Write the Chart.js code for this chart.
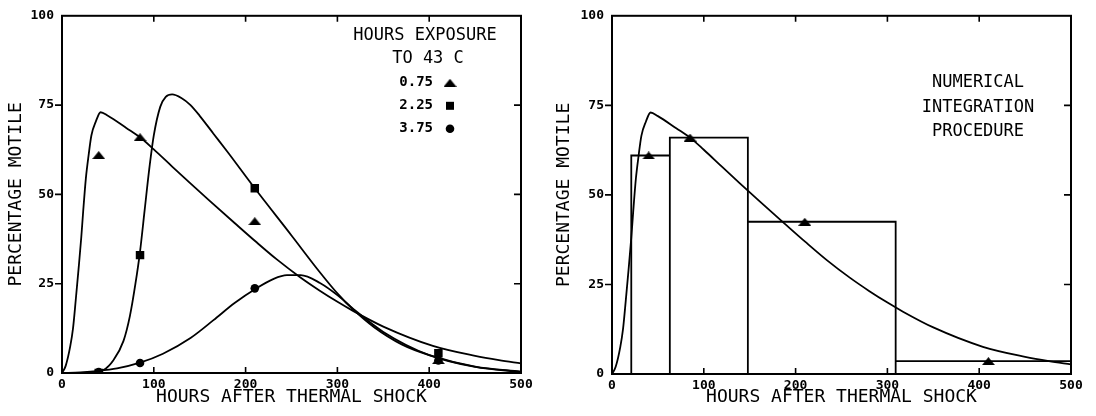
<!DOCTYPE html>
<html>
<head>
<meta charset="utf-8">
<script src="https://cdn.jsdelivr.net/npm/chart.js"></script>
<style>
  html, body { margin: 0; padding: 0; background: #fff; }
  #wrap { position: relative; width: 1096px; height: 416px; }
  canvas { position: absolute; top: 0; }
  #cl { left: 0; }
  #cr { left: 548px; }
</style>
</head>
<body>
<div id="wrap">
  <canvas id="cl" width="548" height="416"></canvas>
  <canvas id="cr" width="548" height="416"></canvas>
</div>
<script>
// ---------------- DATA ----------------
const xTickValues = [0, 100, 200, 300, 400, 500];
const yTickValues = [0, 25, 50, 75, 100];

const hoursObs   = [40, 85, 210, 410];
const motile075  = [61, 66, 42.5, 3.6];   // triangles, 0.75 h at 43 C
const motile225  = [0, 33, 51.7, 5.5];    // squares, 2.25 h
const motile375  = [0.3, 2.8, 23.7, 3.5]; // circles, 3.75 h

const fitHours075 = [0,4,9,12,15,18,21,23,26,29,32,37,42,50,70,85,100,120,139,160,188,211,234,259,280,301,317,350,404,450,476,500];
const fit075      = [0,2,7.5,12.5,20.5,29,38,45,54.5,61,66.5,70.5,73,72,68.6,66,62.6,57.8,53.3,48.4,42,36.8,31.8,26.9,23.2,19.8,17.4,13,7.6,4.8,3.6,2.7];

const fitHours225 = [0,30,45,56,67,74,80,85,90,95,100,107,113,120,130,140,150,165,180,210,250,280,301,317,340,370,400,450,500];
const fit225      = [0,0,0.8,3.6,9,16,25,34,45.5,57,66.5,74.5,77.3,78,77,75,72,67,62,51.7,38.5,28.5,22,17.8,12.8,8,5,1.8,0.4];

const fitHours375 = [0,20,40,60,85,110,140,165,188,211,230,245,260,281,301,317,350,400,450,500];
const fit375      = [0,0.2,0.6,1.3,2.9,5.4,9.8,14.8,19.6,23.6,26.3,27.4,27.4,25.2,21.6,18,11.5,5,1.7,0.3];

const binEdges   = [21, 63, 148, 309, 500];
const binHeights = [61, 66, 42.5, 3.6];

const legendTitle = ['HOURS EXPOSURE', 'TO 43 C'];
const legendLabels = ['0.75', '2.25', '3.75'];
const noteLines = ['NUMERICAL', 'INTEGRATION', 'PROCEDURE'];
const xTitle = 'HOURS AFTER THERMAL SHOCK';
const yTitle = 'PERCENTAGE MOTILE';

// ---------------- HELPERS ----------------
const MONO = '"DejaVu Sans Mono", "Liberation Mono", monospace';
function pairs(xs, ys) { return xs.map((x, i) => ({ x: x, y: ys[i] })).filter(p => p.y !== null); }

function makeTriangle(w, h) {
  const c = document.createElement('canvas');
  c.width = w; c.height = h;
  const g = c.getContext('2d');
  g.fillStyle = '#000';
  g.beginPath();
  g.moveTo(0, h); g.lineTo(w / 2, 0); g.lineTo(w, h); g.closePath();
  g.fill();
  return c;
}
const triImg = makeTriangle(13, 8);

function outline(edges, heights) {
  const pts = [{ x: edges[0], y: 0 }];
  heights.forEach((h, i) => {
    pts.push({ x: edges[i], y: h }, { x: edges[i + 1], y: h }, { x: edges[i + 1], y: 0 });
  });
  return pts;
}

function curve(xs, ys) {
  return { type: 'line', data: pairs(xs, ys), borderColor: '#000', borderWidth: 1.8,
           pointRadius: 0, fill: false, cubicInterpolationMode: 'monotone', order: 5 };
}
function markers(ys, style, r) {
  return { type: 'scatter', data: pairs(hoursObs, ys), showLine: false,
           pointStyle: style, pointRadius: r, pointBackgroundColor: '#000', pointBorderColor: '#000',
           pointBorderWidth: 0, order: 1 };
}

const framePlugin = {
  id: 'frame',
  afterDatasetsDraw(chart) {
    const { ctx, chartArea: a, scales: { x, y } } = chart;
    ctx.save();
    ctx.strokeStyle = '#000';
    ctx.lineWidth = 2;
    ctx.strokeRect(a.left, a.top, a.right - a.left, a.bottom - a.top);
    ctx.lineWidth = 1.6;
    ctx.beginPath();
    [100, 200, 300, 400].forEach(v => {
      const px = x.getPixelForValue(v);
      ctx.moveTo(px, a.bottom); ctx.lineTo(px, a.bottom - 6);
      ctx.moveTo(px, a.top); ctx.lineTo(px, a.top + 6);
    });
    [25, 50, 75].forEach(v => {
      const py = y.getPixelForValue(v);
      ctx.moveTo(a.left, py); ctx.lineTo(a.left - 7, py);
      ctx.moveTo(a.right, py); ctx.lineTo(a.right - 7, py);
    });
    ctx.stroke();
    ctx.restore();
  }
};

const legendPlugin = {
  id: 'legendNote',
  afterDraw(chart) {
    const { ctx, chartArea: a } = chart;
    ctx.save();
    ctx.fillStyle = '#000';
    ctx.textBaseline = 'middle';
    ctx.textAlign = 'center';
    ctx.font = '17px ' + MONO;
    const cx = a.right - 96;
    ctx.fillText(legendTitle[0], cx, a.top + 20);
    ctx.fillText(legendTitle[1], cx + 3, a.top + 43);
    ctx.font = 'bold 14px ' + MONO;
    ctx.textAlign = 'right';
    const rows = [a.top + 67, a.top + 90, a.top + 113];
    const mx = a.right - 71;
    legendLabels.forEach((t, i) => ctx.fillText(t, a.right - 88, rows[i]));
    ctx.drawImage(triImg, mx - 6.5, rows[0] - 4);
    ctx.fillRect(mx - 4, rows[1] - 4, 8, 8);
    ctx.beginPath(); ctx.arc(mx, rows[2], 4.3, 0, Math.PI * 2); ctx.fill();
    ctx.restore();
  }
};

const notePlugin = {
  id: 'note',
  afterDraw(chart) {
    const { ctx, chartArea: a } = chart;
    ctx.save();
    ctx.fillStyle = '#000';
    ctx.textBaseline = 'middle';
    ctx.textAlign = 'center';
    ctx.font = '17px ' + MONO;
    const cx = a.right - 93;
    noteLines.forEach((t, i) => ctx.fillText(t, cx, a.top + 67 + i * 24.5));
    ctx.restore();
  }
};

function scalesCfg(yWidth, xHeight) {
  return {
    x: {
      type: 'linear', min: 0, max: 500,
      afterBuildTicks: s => { s.ticks = xTickValues.map(v => ({ value: v })); },
      afterFit: s => { s.height = xHeight; },
      ticks: { color: '#000', font: { family: MONO, size: 13, weight: 'bold' }, padding: 4, maxRotation: 0, autoSkip: false },
      grid: { display: false, drawTicks: false },
      border: { display: false },
      title: { display: true, text: xTitle, color: '#000', font: { family: MONO, size: 18 }, padding: { top: 0, bottom: 8 } }
    },
    y: {
      type: 'linear', min: 0, max: 100,
      afterBuildTicks: s => { s.ticks = yTickValues.map(v => ({ value: v })); },
      afterFit: s => { s.width = yWidth; },
      ticks: { color: '#000', font: { family: MONO, size: 13, weight: 'bold' }, padding: 8, autoSkip: false },
      grid: { display: false, drawTicks: false },
      border: { display: false },
      title: { display: true, text: yTitle, color: '#000', font: { family: MONO, size: 18 }, padding: { top: 6, bottom: 0 } }
    }
  };
}

const common = {
  responsive: false, animation: false, devicePixelRatio: 1,
  plugins: { legend: { display: false }, tooltip: { enabled: false } },
  elements: { line: { tension: 0 } }
};

// ---------------- LEFT CHART ----------------
new Chart(document.getElementById('cl'), {
  type: 'line',
  data: {
    datasets: [
      curve(fitHours075, fit075),
      curve(fitHours225, fit225),
      curve(fitHours375, fit375),
      markers(motile375, 'circle', 4.3),
      markers(motile225, 'rect', 6),
      markers(motile075, triImg, 6)
    ]
  },
  options: Object.assign({}, common, {
    layout: { padding: { top: 14, right: 27, left: 0, bottom: 0 } },
    scales: scalesCfg(62, 43)
  }),
  plugins: [framePlugin, legendPlugin]
});

// ---------------- RIGHT CHART ----------------
new Chart(document.getElementById('cr'), {
  type: 'line',
  data: {
    datasets: [
      curve(fitHours075, fit075),
      { type: 'line', data: outline(binEdges, binHeights), borderColor: '#000', borderWidth: 1.8,
        pointRadius: 0, fill: false, tension: 0, order: 4 },
      markers(motile075, triImg, 6)
    ]
  },
  options: Object.assign({}, common, {
    layout: { padding: { top: 14, right: 25, left: 0, bottom: 0 } },
    scales: scalesCfg(64, 42)
  }),
  plugins: [framePlugin, notePlugin]
});
</script>
</body>
</html>
